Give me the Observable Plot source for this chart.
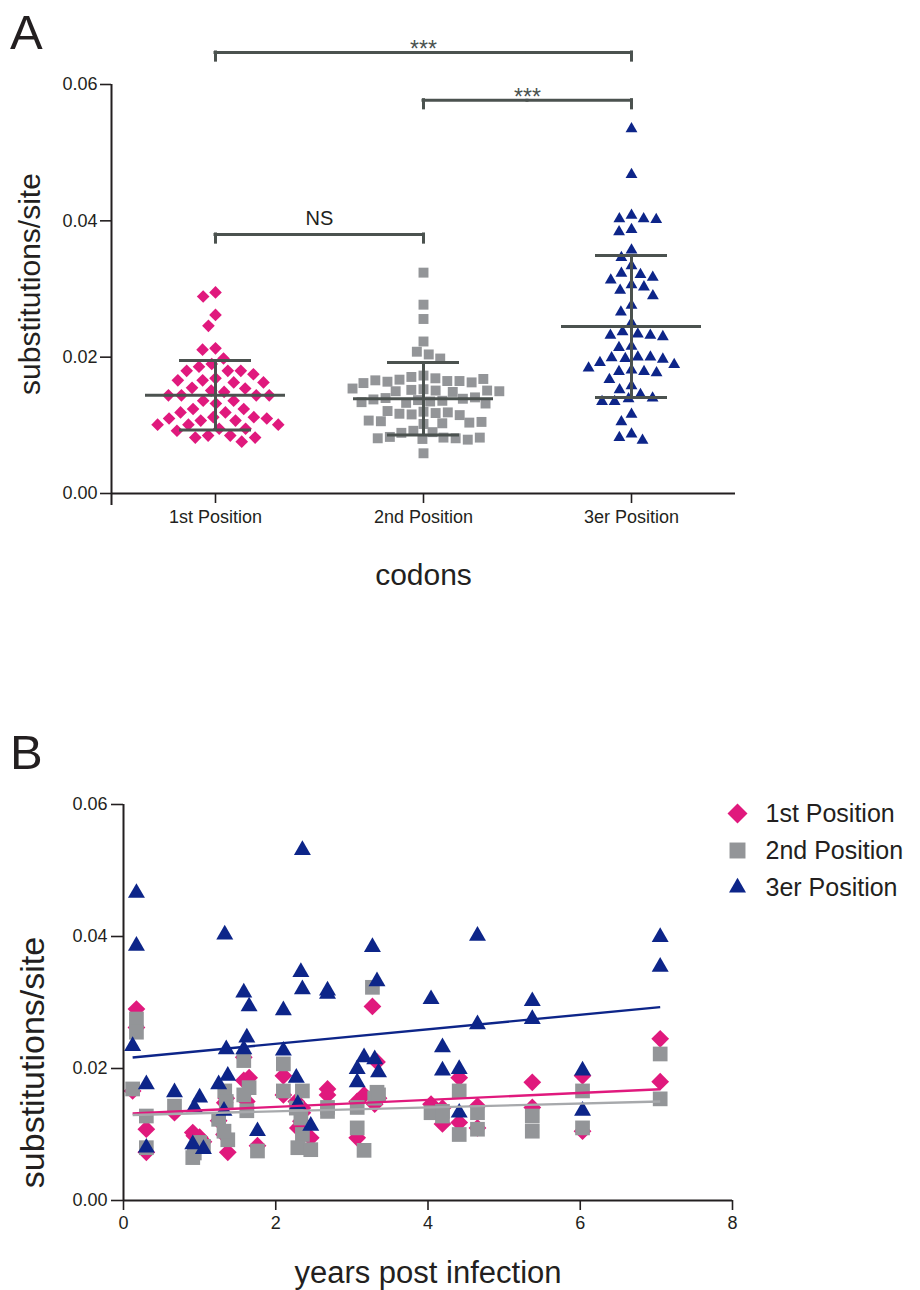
<!DOCTYPE html>
<html>
<head>
<meta charset="utf-8">
<script src="https://cdn.jsdelivr.net/npm/d3@7"></script>
<script src="https://cdn.jsdelivr.net/npm/@observablehq/plot@0.6"></script>
<style>
  body { margin: 0; background: #fff; font-family: "Liberation Sans", Arial, sans-serif; color: #231f20; }
  #wrap { position: relative; width: 920px; height: 1290px; overflow: hidden; }
  .panel { position: absolute; left: 0; }
  .letter { position: absolute; left: 10px; font-size: 49px; line-height: 1; }
  svg g[aria-label*="axis"] path, svg g[aria-label*="axis"] line { stroke-width: 1.6px; }
</style>
</head>
<body>
<div id="wrap">
  <div class="letter" style="top:8px">A</div>
  <div class="letter" style="top:728px">B</div>
  <div id="panelA" class="panel" style="top:0"></div>
  <div id="panelB" class="panel" style="top:700px"></div>
  <div id="legendB" class="panel" style="left:718px;top:790px"></div>
</div>
<script>
// ---------------- data ----------------
const cats = ["1st Position", "2nd Position", "3er Position"];

// Panel A: substitutions/site per codon position
const pos1 = [0.0295, 0.0289, 0.0262, 0.0246, 0.0213, 0.0211, 0.0198, 0.0190, 0.0186, 0.0180,
  0.0180, 0.0180, 0.0175, 0.0169, 0.0166, 0.0166, 0.0163, 0.0163, 0.0155, 0.0154,
  0.0151, 0.0149, 0.0144, 0.0144, 0.0144, 0.0144, 0.0136, 0.0136, 0.0132, 0.0124,
  0.0124, 0.0119, 0.0119, 0.0112, 0.0112, 0.0110, 0.0110, 0.0107, 0.0107, 0.0101,
  0.0101, 0.0101, 0.0095, 0.0095, 0.0092, 0.0085, 0.0085, 0.0082, 0.0082, 0.0076];
const pos2 = [0.0324, 0.0277, 0.0256, 0.0223, 0.0208, 0.0204, 0.0198, 0.0173, 0.0171, 0.0169,
  0.0167, 0.0165, 0.0165, 0.0164, 0.0163, 0.0166, 0.0162, 0.0168, 0.0153, 0.0152,
  0.0151, 0.0150, 0.0151, 0.0149, 0.0154, 0.0150, 0.0140, 0.0139, 0.0137, 0.0135,
  0.0133, 0.0136, 0.0138, 0.0141, 0.0134, 0.0132, 0.0120, 0.0118, 0.0116, 0.0119,
  0.0117, 0.0115, 0.0121, 0.0106, 0.0104, 0.0102, 0.0107, 0.0105, 0.0103, 0.0092,
  0.0090, 0.0089, 0.0082, 0.0081, 0.0080, 0.0083, 0.0079, 0.0081, 0.0082, 0.0059];
const pos3 = [0.0535, 0.0468, 0.0408, 0.0403, 0.0403, 0.0402, 0.0387, 0.0384, 0.0357, 0.0346,
  0.0334, 0.0323, 0.0321, 0.0317, 0.0313, 0.0306, 0.0303, 0.0298, 0.0290, 0.0276,
  0.0266, 0.0250, 0.0237, 0.0234, 0.0232, 0.0232, 0.0230, 0.0216, 0.0214, 0.0200,
  0.0200, 0.0199, 0.0198, 0.0197, 0.0192, 0.0189, 0.0184, 0.0181, 0.0179, 0.0179,
  0.0177, 0.0167, 0.0158, 0.0152, 0.0145, 0.0140, 0.0139, 0.0135, 0.0135, 0.0116,
  0.0105, 0.0087, 0.0082, 0.0078];
const groupMean = [0.0144, 0.0139, 0.0245];
const groupSD = [0.0051, 0.0053, 0.0104];

// significance brackets
const bracketFrom = ["1st Position", "2nd Position", "1st Position"];
const bracketTo = ["3er Position", "3er Position", "2nd Position"];
const bracketLevel = [0.0647, 0.0577, 0.0380];
const bracketLabel = ["***", "***", "NS"];

const yTicks = [0, 0.02, 0.04, 0.06];
const xTicksB = [0, 2, 4, 6, 8];
const yLabel = "substitutions/site";
const xLabelA = "codons";
const xLabelB = "years post infection";

// Panel B: per-sample values vs years post infection
const years = [0.17, 0.17, 0.12, 0.30, 0.30, 0.67, 0.91, 0.93, 1.00, 1.05,
  1.25, 1.33, 1.35, 1.37, 1.32, 1.58, 1.65, 1.62, 1.58, 1.76,
  2.10, 2.10, 2.35, 2.33, 2.35, 2.27, 2.29, 2.46, 2.68, 2.68,
  3.07, 3.07, 3.16, 3.27, 3.33, 3.30, 3.35, 4.04, 4.19, 4.19,
  4.41, 4.41, 4.65, 4.65, 5.37, 5.37, 6.03, 6.03, 7.05, 7.05];
const b1 = [0.0290, 0.0262, 0.0166, 0.0108, 0.0073, 0.0133, 0.0103, 0.0098, 0.0096, 0.0089,
  0.0121, 0.0148, 0.0155, 0.0073, 0.0100, 0.0217, 0.0186, 0.0150, 0.0182, 0.0083,
  0.0189, 0.0160, 0.0140, 0.0120, 0.0133, 0.0150, 0.0110, 0.0095, 0.0169, 0.0160,
  0.0095, 0.0150, 0.0160, 0.0294, 0.0210, 0.0146, 0.0155, 0.0146, 0.0116, 0.0140,
  0.0186, 0.0118, 0.0143, 0.0110, 0.0179, 0.0141, 0.0189, 0.0105, 0.0245, 0.0180];
const b2 = [0.0275, 0.0255, 0.0169, 0.0128, 0.0080, 0.0143, 0.0065, 0.0072, 0.0088, 0.0082,
  0.0123, 0.0166, 0.0150, 0.0092, 0.0105, 0.0212, 0.0171, 0.0136, 0.0160, 0.0075,
  0.0207, 0.0166, 0.0166, 0.0125, 0.0100, 0.0140, 0.0080, 0.0077, 0.0141, 0.0135,
  0.0110, 0.0141, 0.0076, 0.0323, 0.0164, 0.0155, 0.0160, 0.0133, 0.0135, 0.0128,
  0.0166, 0.0100, 0.0133, 0.0108, 0.0128, 0.0105, 0.0166, 0.0110, 0.0222, 0.0154];
const b3 = [0.0466, 0.0386, 0.0234, 0.0176, 0.0080, 0.0164, 0.0085, 0.0141, 0.0156, 0.0078,
  0.0176, 0.0403, 0.0229, 0.0189, 0.0136, 0.0315, 0.0294, 0.0247, 0.0229, 0.0105,
  0.0227, 0.0288, 0.0531, 0.0346, 0.0320, 0.0186, 0.0146, 0.0113, 0.0318, 0.0313,
  0.0179, 0.0199, 0.0217, 0.0384, 0.0332, 0.0214, 0.0194, 0.0305, 0.0232, 0.0197,
  0.0199, 0.0133, 0.0401, 0.0267, 0.0302, 0.0275, 0.0197, 0.0136, 0.0399, 0.0354];
// linear fits (intercept, slope per year)
const fitIntercept = [0.01312, 0.01293, 0.02154];
const fitSlope = [0.00053, 0.000293, 0.00110];

// ---------------- styles ----------------
const FONT = '"Liberation Sans", Arial, Helvetica, sans-serif';
const INK = "#231f20";
const colors = ["#e0197d", "#939598", "#0d2589"];
const lineColors = ["#e0197d", "#a7a9ac", "#0d2589"];
const symbols = ["diamond2", "square", "triangle"];
const SUMMARY = "#4b524f";
const rA = [5.7, 5.6, 4.4];
const padA = [1.6, 1, 3.8];
const rB = [8.0, 8.3, 6.3];
const rLeg = [9.0, 9.0, 6.3];
const bracketDrop = 0.0012;

// ---------------- panel A ----------------
const groups = [pos1, pos2, pos3];
const rowsA = groups.flatMap((arr, i) => arr.map(v => ({cat: cats[i], v})));
const summary = cats.map((c, i) => ({cat: c, mean: groupMean[i], sd: groupSD[i]}));

const segs = [];
const ends = [];
const bLabels = [];
bracketFrom.forEach((f, b) => {
  const i = cats.indexOf(f), j = cats.indexOf(bracketTo[b]);
  for (let k = i; k <= j; k++) segs.push({fx: cats[k], x1: k === i ? 0 : -1, x2: k === j ? 0 : 1, y: bracketLevel[b]});
  ends.push({fx: cats[i], y: bracketLevel[b]}, {fx: cats[j], y: bracketLevel[b]});
  const mid = (i + j) / 2, k = Math.round(mid);
  bLabels.push({fx: cats[k], x: (mid - k) * 2, y: bracketLevel[b], label: bracketLabel[b]});
});

const plotA = Plot.plot({
  width: 920, height: 620,
  marginLeft: 111, marginRight: 185, marginTop: 84, marginBottom: 127,
  style: {fontFamily: FONT, fontSize: "18px", color: INK, background: "transparent", overflow: "visible"},
  fx: {domain: cats, padding: 0, label: null, tickSize: 10, tickPadding: 7},
  x: {domain: [-1, 1], axis: null},
  y: {domain: [0, 0.06], ticks: yTicks, tickFormat: d3.format(".2f"), tickSize: 11, tickPadding: 3, label: null},
  marks: [
    ...groups.map((arr, i) => Plot.dot(rowsA.filter(d => d.cat === cats[i]),
      Plot.dodgeX({anchor: "middle", padding: padA[i]},
        {fx: "cat", y: "v", r: rA[i], symbol: symbols[i], fill: colors[i]}))),
    Plot.ruleY([0], {stroke: INK, strokeWidth: 2}),
    Plot.ruleX([cats[0]], {fx: d => d, x: () => -1, insetBottom: -12, stroke: INK, strokeWidth: 2}),
    Plot.ruleX(summary, {fx: "cat", x: () => 0, y1: d => d.mean - d.sd, y2: d => d.mean + d.sd, stroke: SUMMARY, strokeWidth: 3}),
    Plot.tickY(summary, {fx: "cat", y: "mean", insetLeft: 34, insetRight: 34, stroke: SUMMARY, strokeWidth: 3}),
    Plot.tickY(summary, {fx: "cat", y: d => d.mean + d.sd, insetLeft: 68, insetRight: 68, stroke: SUMMARY, strokeWidth: 3}),
    Plot.tickY(summary, {fx: "cat", y: d => d.mean - d.sd, insetLeft: 68, insetRight: 68, stroke: SUMMARY, strokeWidth: 3}),
    Plot.ruleY(segs, {fx: "fx", x1: "x1", x2: "x2", y: "y", stroke: SUMMARY, strokeWidth: 3, strokeLinecap: "square"}),
    Plot.ruleX(ends, {fx: "fx", x: () => 0, y1: "y", y2: d => d.y - bracketDrop, stroke: SUMMARY, strokeWidth: 3, strokeLinecap: "square"}),
    Plot.text(bLabels.filter(d => d.label !== "NS"), {fx: "fx", x: "x", y: "y", text: "label", lineAnchor: "bottom", dy: 5, fontSize: 23, fill: SUMMARY}),
    Plot.text(bLabels.filter(d => d.label === "NS"), {fx: "fx", x: "x", y: "y", text: "label", lineAnchor: "bottom", dy: -9, fontSize: 20, fill: INK}),
    Plot.text([yLabel], {fx: () => cats[0], frameAnchor: "left", textAnchor: "middle", lineAnchor: "middle", dx: -81, dy: -5, rotate: -90, text: d => d, fontSize: 30, fill: INK}),
    Plot.text([xLabelA], {fx: () => cats[1], frameAnchor: "bottom", textAnchor: "middle", lineAnchor: "middle", dy: 82, text: d => d, fontSize: 30, fill: INK})
  ]
});
document.getElementById("panelA").append(plotA);

// ---------------- panel B ----------------
const rowsB = years.map((x, j) => ({x, v: [b1[j], b2[j], b3[j]]}));
const [xMin, xMax] = d3.extent(years);

const plotB = Plot.plot({
  width: 920, height: 590,
  marginLeft: 123, marginRight: 188, marginTop: 104, marginBottom: 90,
  style: {fontFamily: FONT, fontSize: "18px", color: INK, background: "transparent", overflow: "visible"},
  x: {domain: [0, 8], ticks: xTicksB, tickSize: 10, tickPadding: 6, label: null},
  y: {domain: [0, 0.06], ticks: yTicks, tickFormat: d3.format(".2f"), tickSize: 12, tickPadding: 4, label: null},
  marks: [
    ...cats.map((c, i) => Plot.dot(rowsB, {x: "x", y: d => d.v[i], r: rB[i], symbol: symbols[i], fill: colors[i]})),
    ...cats.map((c, i) => Plot.link([c], {
      x1: () => xMin, x2: () => xMax,
      y1: () => fitIntercept[i] + fitSlope[i] * xMin,
      y2: () => fitIntercept[i] + fitSlope[i] * xMax,
      stroke: lineColors[i], strokeWidth: 2.4})),
    Plot.ruleX([0], {stroke: INK, strokeWidth: 2}),
    Plot.ruleY([0], {stroke: INK, strokeWidth: 2}),
    Plot.text([yLabel], {frameAnchor: "left", textAnchor: "middle", lineAnchor: "middle", dx: -90, dy: 60, rotate: -90, text: d => d, fontSize: 34, fill: INK}),
    Plot.text([xLabelB], {frameAnchor: "bottom", textAnchor: "middle", lineAnchor: "middle", dy: 73, text: d => d, fontSize: 31, fill: INK})
  ]
});
document.getElementById("panelB").append(plotB);

// ---------------- legend B ----------------
const legend = Plot.plot({
  width: 202, height: 120, margin: 0,
  style: {fontFamily: FONT, color: INK, background: "transparent", overflow: "visible"},
  y: {type: "point", domain: cats, range: [23, 97], padding: 0, axis: null},
  marks: [
    ...cats.map((c, i) => Plot.dot([c], {y: d => d, frameAnchor: "left", dx: 19, r: rLeg[i], symbol: symbols[i], fill: colors[i]})),
    Plot.text(cats, {y: d => d, frameAnchor: "left", dx: 47, textAnchor: "start", lineAnchor: "middle", text: d => d, fontSize: 25, fill: INK})
  ]
});
document.getElementById("legendB").append(legend);
</script>
</body>
</html>
